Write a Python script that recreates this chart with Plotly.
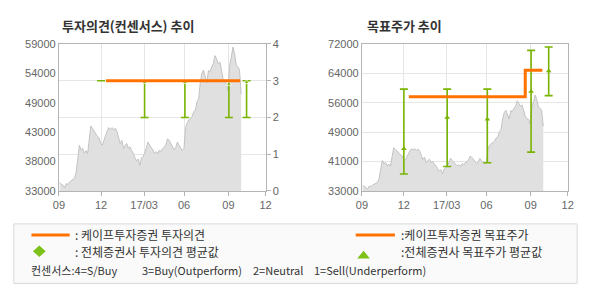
import pandas as pd
import plotly.graph_objects as go

# ---------------- data ----------------
price_start = "2016-09-03"
price_end = "2017-10-08"
prices = [
    34480, 34140, 34020, 33570, 34310, 34140, 34590, 34870, 35040, 35270,
    36290, 39120, 41090, 40250, 40530, 39680, 40130, 39570, 41940, 44490,
    44090, 43640, 42960, 42620, 42400, 41380, 41090, 42060, 42620, 43640,
    44210, 43870, 44210, 43750, 44090, 43530, 42400, 41380, 41940, 40530,
    41090, 41380, 40530, 40810, 40130, 39680, 38830, 38270, 38660, 37530,
    38830, 39120, 39680, 40810, 41660, 41090, 40700, 40250, 39680, 39960,
    39570, 40250, 39960, 40530, 40700, 41260, 42230, 41940, 41380, 40810,
    40250, 40700, 41660, 41090, 40530, 40130, 40530, 44210, 45050, 45620,
    45790, 46190, 47030, 47320, 48730, 49300, 52130, 53820, 54390, 53370,
    52130, 54270, 54100, 54950, 55520, 56930, 56370, 55520, 55800, 54390,
    52690, 52130, 52010, 50710, 55240, 56650, 58460, 57220, 55240, 54950,
    54390, 50150,
]

# Cape Investment opinion (consensus scale) and target price
opinion_dates = ["2016-12-14", "2017-10-06"]
opinion_vals = [3, 3]
target_dates = ["2016-12-14", "2017-08-29", "2017-10-06"]
target_vals = [58000, 65000, 65000]

# All-broker averages (mean, high, low)
avg_dates = ["2016-12-03", "2017-03-09", "2017-06-06", "2017-09-11", "2017-10-20"]
cons_mean = [3.0, 2.96, 2.96, 2.91, 2.96]
cons_high = [3, 3, 3, 3, 3]
cons_low = [3, 2, 2, 2, 2]
tp_mean = [44200, 52500, 52000, 59400, 64800]
tp_high = [60000, 60000, 60000, 70300, 71200]
tp_low = [37500, 39500, 40500, 43300, 58300]

x_tick_dates = ["2016-09-01", "2016-12-03", "2017-03-08", "2017-06-04", "2017-09-10", "2017-12-01"]
x_tick_text = ["09", "12", "17/03", "06", "09", "12"]
y1_ticks = [33000, 38200, 43400, 48600, 53800, 59000]
y1_text = ["33000", "38000", "43000", "49000", "54000", "59000"]
y3_ticks = [33000, 40800, 48600, 56400, 64200, 72000]
y3_text = ["33000", "41000", "49000", "56000", "64000", "72000"]

# ---------------- style ----------------
W, H = 590, 300
ORANGE = "#ff7200"
GREEN = "#78b400"
AREA = "#e0e0e0"
AREA_LINE = "#c2c2c2"
GRID = "#e6e6e6"
FRAME = "#b4b4b4"
TICKFONT = dict(family="Liberation Sans, Arial", size=11, color="#666666")
KFONT = "Noto Sans CJK KR"

def px(x):
    return x / W

def py(y):
    return 1 - y / H

price_dates = pd.date_range(price_start, price_end, periods=len(prices))

fig = go.Figure()

for xa, ya in (("x", "y"), ("x2", "y3")):
    fig.add_trace(go.Scatter(
        x=price_dates, y=prices, xaxis=xa, yaxis=ya, mode="lines",
        line=dict(color=AREA_LINE, width=1), fill="tozeroy", fillcolor=AREA,
        hoverinfo="skip"))

# consensus error bars (left chart, right axis)
fig.add_trace(go.Scatter(
    x=avg_dates, y=cons_mean, xaxis="x", yaxis="y2", mode="markers",
    marker=dict(symbol="triangle-up", size=[0, 5, 5, 5, 5], color=GREEN),
    error_y=dict(type="data", symmetric=False,
                 array=[h - m for h, m in zip(cons_high, cons_mean)],
                 arrayminus=[m - l for m, l in zip(cons_mean, cons_low)],
                 color=GREEN, thickness=1.6, width=4)))
fig.add_trace(go.Scatter(
    x=opinion_dates, y=opinion_vals, xaxis="x", yaxis="y2", mode="lines",
    line=dict(color=ORANGE, width=3)))

# target price error bars (right chart)
fig.add_trace(go.Scatter(
    x=avg_dates, y=tp_mean, xaxis="x2", yaxis="y3", mode="markers",
    marker=dict(symbol="triangle-up", size=5, color=GREEN),
    error_y=dict(type="data", symmetric=False,
                 array=[h - m for h, m in zip(tp_high, tp_mean)],
                 arrayminus=[m - l for m, l in zip(tp_mean, tp_low)],
                 color=GREEN, thickness=1.6, width=4)))
fig.add_trace(go.Scatter(
    x=target_dates, y=target_vals, xaxis="x2", yaxis="y3", mode="lines",
    line=dict(color=ORANGE, width=3, shape="hv")))

ydom = [py(192.7), py(39.5)]
xcommon = dict(type="date", range=["2016-09-01", "2017-12-01"], tickmode="array",
               tickvals=x_tick_dates, ticktext=x_tick_text, showgrid=True,
               gridcolor=GRID, ticks="outside", ticklen=4, tickcolor=FRAME,
               showline=True, linecolor=FRAME, mirror=True, tickfont=TICKFONT,
               zeroline=False, fixedrange=True)

fig.update_layout(
    width=W, height=H, margin=dict(l=0, r=0, t=0, b=0),
    paper_bgcolor="white", plot_bgcolor="white", showlegend=False,
    hovermode=False,
    xaxis=dict(domain=[px(54), px(265)], anchor="y", **xcommon),
    yaxis=dict(domain=ydom, anchor="x", range=[33000, 59000], tickmode="array",
               tickvals=y1_ticks, ticktext=y1_text, showgrid=False,
               showline=True, linecolor=FRAME, mirror=True, ticks="",
               tickfont=TICKFONT, zeroline=False, fixedrange=True),
    yaxis2=dict(overlaying="y", anchor="x", side="right", range=[0, 4],
                tickmode="array", tickvals=[0, 1, 2, 3, 4], showgrid=True,
                gridcolor=GRID, ticks="outside", ticklen=4, tickcolor=FRAME,
                tickfont=TICKFONT, zeroline=False, showline=False, fixedrange=True),
    xaxis2=dict(domain=[px(363.3), px(573.3)], anchor="y3", **xcommon),
    yaxis3=dict(domain=ydom, anchor="x2", range=[33000, 72000], tickmode="array",
                tickvals=y3_ticks, ticktext=y3_text, showgrid=True, gridcolor=GRID,
                showline=True, linecolor=FRAME, mirror=True, ticks="",
                tickfont=TICKFONT, zeroline=False, fixedrange=True),
)

# titles
ann = []
ann.append(dict(text="<b>투자의견(컨센서스) 추이</b>", x=px(55), y=py(20),
                font=dict(family=KFONT, size=13, color="#333333")))
ann.append(dict(text="<b>목표주가 추이</b>", x=px(366), y=py(20),
                font=dict(family=KFONT, size=13, color="#333333")))

# legend box & symbols
shapes = [
    dict(type="rect", xref="paper", yref="paper", x0=px(8), x1=px(583),
         y0=py(289), y1=py(227), line=dict(color="#d9d9d9", width=1),
         fillcolor="#fafafa", layer="below"),
    dict(type="line", xref="paper", yref="paper", x0=px(26), x1=px(65),
         y0=py(238.5), y1=py(238.5), line=dict(color=ORANGE, width=3)),
    dict(type="line", xref="paper", yref="paper", x0=px(357), x1=px(397),
         y0=py(238.5), y1=py(238.5), line=dict(color=ORANGE, width=3)),
    dict(type="path", xref="paper", yref="paper",
         path=f"M {px(34)} {py(249.5)} L {px(40.5)} {py(255.5)} L {px(34)} {py(261.5)} L {px(27.5)} {py(255.5)} Z",
         fillcolor="#7dc11a", line=dict(width=0)),
    dict(type="path", xref="paper", yref="paper",
         path=f"M {px(365)} {py(255)} L {px(371.5)} {py(263)} L {px(358.5)} {py(263)} Z",
         fillcolor="#7dc11a", line=dict(width=0)),
]

LF = dict(family=KFONT, size=12, color="#333333")
for txt, x, y in [(": 케이프투자증권 투자의견", 68, 238),
                  (": 전체증권사 투자의견 평균값", 68, 256),
                  (":케이프투자증권 목표주가", 401, 238),
                  (":전체증권사 목표주가 평균값", 401, 256)]:
    ann.append(dict(text=txt, x=px(x), y=py(y), font=LF))

SF = dict(family=KFONT, size=11, color="#333333")
for txt, x in [("컨센서스:4=S/Buy", 23), ("3=Buy(Outperform)", 137),
               ("2=Neutral", 250), ("1=Sell(Underperform)", 312)]:
    ann.append(dict(text=txt, x=px(x), y=py(275), font=SF))

for a in ann:
    a.update(xref="paper", yref="paper", xanchor="left", yanchor="middle",
             showarrow=False)

fig.update_layout(annotations=ann, shapes=shapes)
fig.write_html("out.html")
